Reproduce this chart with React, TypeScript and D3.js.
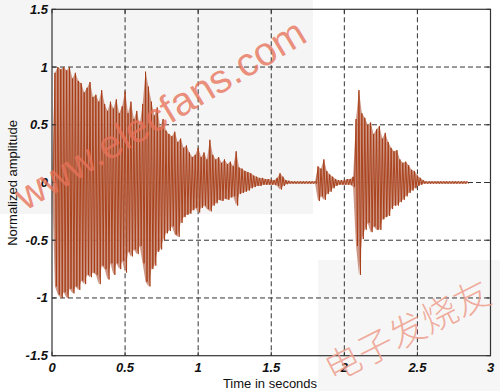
import React from "react";
import * as d3 from "d3";

// Waveform envelope, every 0.02 s (starts at t = 0)
const step = 0.02;
const upper: number[] = [
  0.0, 0.95, 1.0, 0.98, 1.0, 0.97, 1.0, 0.9, 0.95, 0.88,
  0.86, 0.78, 0.82, 0.87, 0.74, 0.76, 0.7, 0.8, 0.68, 0.62,
  0.7, 0.64, 0.72, 0.6, 0.66, 0.79, 0.6, 0.7, 0.55, 0.62,
  0.5, 0.68, 0.96, 0.83, 0.7, 0.58, 0.65, 0.48, 0.55, 0.45,
  0.42, 0.4, 0.44, 0.35, 0.38, 0.3, 0.32, 0.26, 0.22, 0.24,
  0.3, 0.22, 0.26, 0.2, 0.37, 0.24, 0.2, 0.22, 0.17, 0.2,
  0.16, 0.18, 0.14, 0.27, 0.13, 0.12, 0.1, 0.09, 0.08, 0.06,
  0.05, 0.04, 0.04, 0.03, 0.03, 0.025, 0.02, 0.04, 0.08, 0.05,
  0.02, 0.015, 0.01, 0.01, 0.01, 0.01, 0.01, 0.01, 0.01, 0.01,
  0.01, 0.14, 0.12, 0.2, 0.1, 0.07, 0.05, 0.03, 0.02, 0.02,
  0.02, 0.03, 0.03, 0.05, 0.55, 0.8, 0.6, 0.56, 0.5, 0.52,
  0.42, 0.46, 0.49, 0.38, 0.43, 0.35, 0.3, 0.27, 0.28, 0.2,
  0.17, 0.18, 0.15, 0.11, 0.1, 0.06, 0.04, 0.02, 0.01, 0.01,
  0.01, 0.01, 0.01, 0.01, 0.01, 0.01, 0.01, 0.01, 0.01, 0.01,
  0.01, 0.01, 0.01,
];
const lower: number[] = [
  0.0, -0.9, -0.97, -1.0, -0.95, -1.0, -0.92, -0.96, -0.9, -0.93,
  -0.85, -0.88, -0.8, -0.82, -0.78, -0.8, -0.88, -0.72, -0.75, -0.84,
  -0.7, -0.8, -0.7, -0.75, -0.68, -0.78, -0.6, -0.64, -0.58, -0.62,
  -0.55, -0.7, -0.86, -0.9, -0.75, -0.72, -0.6, -0.58, -0.5, -0.44,
  -0.42, -0.38, -0.45, -0.47, -0.35, -0.3, -0.28, -0.27, -0.24, -0.22,
  -0.26, -0.22, -0.2, -0.23, -0.25, -0.2, -0.18, -0.15, -0.16, -0.14,
  -0.15, -0.13, -0.12, -0.2, -0.1, -0.09, -0.08, -0.07, -0.05, -0.04,
  -0.03, -0.03, -0.02, -0.02, -0.02, -0.02, -0.02, -0.03, -0.06, -0.03,
  -0.015, -0.01, -0.01, -0.01, -0.01, -0.01, -0.01, -0.01, -0.01, -0.01,
  -0.01, -0.16, -0.12, -0.15, -0.1, -0.08, -0.05, -0.03, -0.02, -0.02,
  -0.02, -0.02, -0.02, -0.04, -0.55, -0.8, -0.49, -0.41, -0.35, -0.43,
  -0.38, -0.41, -0.41, -0.32, -0.3, -0.29, -0.23, -0.2, -0.2, -0.17,
  -0.15, -0.12, -0.09, -0.07, -0.05, -0.03, -0.02, -0.01, -0.01, -0.01,
  -0.01, -0.01, -0.01, -0.01, -0.01, -0.01, -0.01, -0.01, -0.01, -0.01,
  -0.01, -0.01, -0.01,
];

const xTicks: number[] = [0, 0.5, 1, 1.5, 2, 2.5, 3];
const yTicks: number[] = [-1.5, -1, -0.5, 0, 0.5, 1, 1.5];
const xLabel = "Time in seconds";
const yLabel = "Normalized amplitude";
const watermark1 = "www.elecfans.com";
const watermark2 = "电子发烧友";

const W = 500;
const H = 391;
const L = 52, R = 490.5, T = 9.3, B = 355.7;

export default function App() {
  const x = d3.scaleLinear().domain([0, 3]).range([L, R]);
  const y = d3.scaleLinear().domain([-1.5, 1.5]).range([B, T]);

  const idx = d3.range(upper.length);
  const area = d3
    .area<number>()
    .x((i) => x(i * step))
    .y0((i) => y(lower[i]))
    .y1((i) => y(upper[i]));

  const zig: [number, number][] = [];
  idx.forEach((i) => {
    zig.push([i * step, upper[i]]);
    zig.push([i * step + step / 2, lower[i]]);
  });
  const line = d3
    .line<[number, number]>()
    .x((d) => x(d[0]))
    .y((d) => y(d[1]));

  const tickFont = "'Liberation Sans', Arial, sans-serif";

  return (
    <svg
      width={W}
      height={H}
      style={{ position: "absolute", left: 0, top: 0, display: "block" }}
    >
      <rect x={0} y={0} width={W} height={H} fill="#ffffff" />
      <rect x={0} y={0} width={313} height={214} fill="#f5f5f5" />
      <rect x={318} y={260} width={W - 318} height={H - 260} fill="#f6f6f6" />

      {/* grid */}
      {xTicks.slice(1, -1).map((t) => (
        <line
          key={"gx" + t}
          x1={x(t)}
          x2={x(t)}
          y1={T}
          y2={B}
          stroke="#333"
          strokeWidth={1}
          strokeDasharray="5,3"
        />
      ))}
      {yTicks.slice(1, -1).map((t) => (
        <line
          key={"gy" + t}
          x1={L}
          x2={R}
          y1={y(t)}
          y2={y(t)}
          stroke="#333"
          strokeWidth={1}
          strokeDasharray="5,3"
        />
      ))}

      {/* waveform */}
      <path d={area(idx) || ""} fill="#c98b78" fillOpacity={0.9} />
      <path
        d={line(zig) || ""}
        fill="none"
        stroke="#a53a12"
        strokeWidth={0.9}
        strokeLinejoin="miter"
      />

      {/* axes box */}
      <rect
        x={L}
        y={T}
        width={R - L}
        height={B - T}
        fill="none"
        stroke="#333"
        strokeWidth={1.2}
      />
      {xTicks.map((t) => (
        <g key={"tx" + t}>
          <line x1={x(t)} x2={x(t)} y1={B} y2={B - 4} stroke="#333" />
          <line x1={x(t)} x2={x(t)} y1={T} y2={T + 4} stroke="#333" />
        </g>
      ))}
      {yTicks.map((t) => (
        <g key={"ty" + t}>
          <line x1={L} x2={L + 4} y1={y(t)} y2={y(t)} stroke="#333" />
          <line x1={R} x2={R - 4} y1={y(t)} y2={y(t)} stroke="#333" />
        </g>
      ))}

      {/* tick labels */}
      {xTicks.map((t) => (
        <text
          key={"lx" + t}
          x={x(t)}
          y={372}
          textAnchor="middle"
          fontFamily={tickFont}
          fontSize={13}
          fontWeight="bold"
          fontStyle="italic"
          fill="#111"
        >
          {String(t)}
        </text>
      ))}
      {yTicks.map((t) => (
        <text
          key={"ly" + t}
          x={48}
          y={y(t) + 4.5}
          textAnchor="end"
          fontFamily={tickFont}
          fontSize={13}
          fontWeight="bold"
          fontStyle="italic"
          fill="#111"
        >
          {String(t)}
        </text>
      ))}

      {/* axis labels */}
      <text
        x={270}
        y={388}
        textAnchor="middle"
        fontFamily={tickFont}
        fontSize={13}
        fill="#111"
      >
        {xLabel}
      </text>
      <text
        transform={`translate(17,183) rotate(-90)`}
        textAnchor="middle"
        fontFamily={tickFont}
        fontSize={13}
        fill="#111"
      >
        {yLabel}
      </text>

      {/* watermarks */}
      <text
        transform="translate(160,114) rotate(-31)"
        textAnchor="middle"
        dominantBaseline="central"
        fontFamily={tickFont}
        fontSize={40}
        fill="#e8735a"
        fillOpacity={0.8}
      >
        {watermark1}
      </text>
      <text
        transform="translate(406,328) rotate(-27)"
        textAnchor="middle"
        dominantBaseline="central"
        fontFamily="'Noto Sans CJK SC', sans-serif"
        fontSize={36}
        fontWeight={300}
        fill="#ee9f8e"
        fillOpacity={0.85}
      >
        {watermark2}
      </text>
    </svg>
  );
}
